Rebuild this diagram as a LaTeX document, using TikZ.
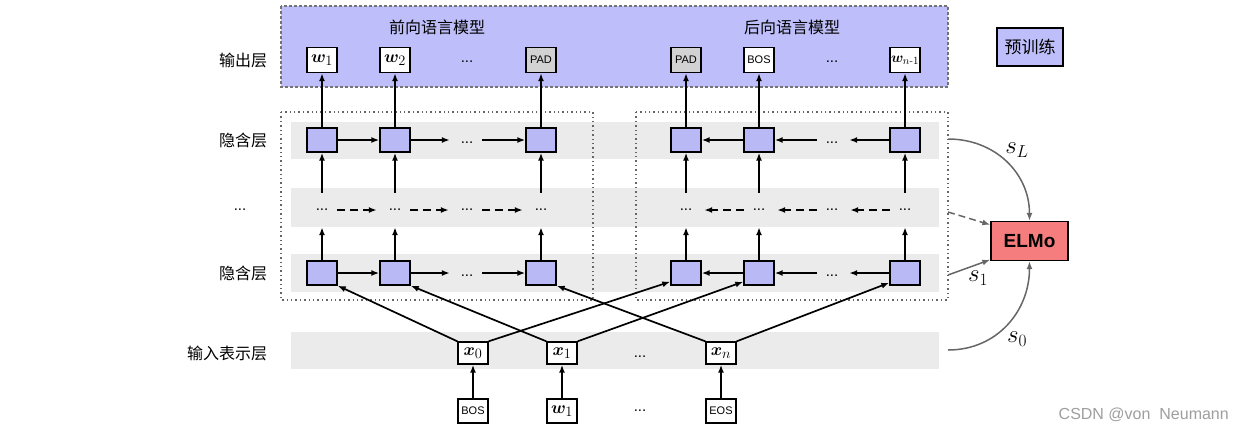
\documentclass[tikz,border=0pt]{standalone}
\usepackage{fontspec}
\usepackage{amsmath}
\usepackage{bm}
\newfontfamily\cjk{Noto Sans CJK SC}
\newfontfamily\sansf{Liberation Sans}
\usetikzlibrary{arrows.meta,calc}
\definecolor{pur}{RGB}{190,190,250}
\definecolor{hid}{RGB}{185,185,245}
\definecolor{bandc}{RGB}{235,235,235}
\definecolor{elmoc}{RGB}{245,125,125}
\definecolor{padg}{RGB}{210,210,210}
\tikzset{
  arr/.style={-{Latex[length=8pt,width=6pt]},line width=1.7pt},
  darr/.style={arr,dash pattern=on 8pt off 5pt},
  garr/.style={-{Latex[length=8pt,width=6pt]},line width=1.5pt,draw=black!60},
  lbl/.style={font=\cjk\fontsize{16}{18}\selectfont},
  hbox/.style={draw,line width=1.4pt,fill=hid,minimum width=30pt,minimum height=24pt,inner sep=0pt},
  wbox/.style={draw,line width=1.4pt,fill=white,minimum width=30pt,minimum height=25pt,inner sep=0pt,font=\fontsize{19}{21}\selectfont},
  tbox/.style={wbox,font=\sansf\fontsize{11}{13}\selectfont},
  xbox/.style={wbox,minimum height=22pt},
  dotn/.style={minimum width=30pt,minimum height=34pt,inner sep=0pt,font=\sansf\fontsize{15}{17}\selectfont},
  slbl/.style={font=\fontsize{23}{25}\selectfont},
}
\begin{document}
\begin{tikzpicture}[x=1pt,y=-1pt]
\useasboundingbox (0,0) rectangle (1243,432);
% bands
\fill[bandc] (291,122) rectangle (939,159);
\fill[bandc] (291,188) rectangle (939,227);
\fill[bandc] (291,254) rectangle (939,292);
\fill[bandc] (291,332) rectangle (939,369);
% output purple panel
\draw[fill=pur,draw=black!55,line width=1.3pt,dash pattern=on 3pt off 2pt] (281,6) rectangle (948,87);
% dotted boxes
\draw[draw=black!60,line width=1.4pt,dash pattern=on 1.4pt off 3pt] (281,112) rectangle (593,300);
\draw[draw=black!60,line width=1.4pt,dash pattern=on 1.4pt off 3pt] (636,112) rectangle (948,300);
% titles
\node[lbl] (tf) at (437,27) {前向语言模型};
\node[lbl] (tb) at (792,27) {后向语言模型};
% left labels
\node[lbl] (l1) at (243,60) {输出层};
\node[lbl] (l2) at (243,140) {隐含层};
\node[dotn] (l3) at (240,210) {...};
\node[lbl] (l4) at (243,273) {隐含层};
\node[lbl] (l5) at (227,353) {输入表示层};
% pretraining legend
\node[draw,line width=1.4pt,fill=pur,minimum width=66pt,minimum height=38pt,inner sep=0pt,font=\cjk\fontsize{17}{19}\selectfont] (pre) at (1030,47) {预训练};
% output row
\node[wbox] (oa) at (322,60) {$\bm{w}_1$};
\node[wbox] (ob) at (395,60) {$\bm{w}_2$};
\node[dotn] (oc) at (467,62) {...};
\node[tbox,fill=padg] (od) at (541,60) {PAD};
\node[tbox,fill=padg] (oe) at (686,60) {PAD};
\node[tbox] (of) at (759,60) {BOS};
\node[dotn] (og) at (832,62) {...};
\node[wbox,font=\fontsize{15}{17}\selectfont] (oh) at (905,60) {$\bm{w}_{n\text{-}1}$};
% top hidden row
\node[hbox] (ha1) at (322,140) {};
\node[hbox] (ha2) at (395,140) {};
\node[dotn] (ha3) at (467,143) {...};
\node[hbox] (ha4) at (541,140) {};
\node[hbox] (hb1) at (686,140) {};
\node[hbox] (hb2) at (759,140) {};
\node[dotn] (hb3) at (832,143) {...};
\node[hbox] (hb4) at (905,140) {};
% middle row
\node[dotn] (ma1) at (322,210) {...};
\node[dotn] (ma2) at (395,210) {...};
\node[dotn] (ma3) at (467,210) {...};
\node[dotn] (ma4) at (541,210) {...};
\node[dotn] (mb1) at (686,210) {...};
\node[dotn] (mb2) at (759,210) {...};
\node[dotn] (mb3) at (832,210) {...};
\node[dotn] (mb4) at (905,210) {...};
% lower hidden row
\node[hbox] (la1) at (322,273) {};
\node[hbox] (la2) at (395,273) {};
\node[dotn] (la3) at (467,276) {...};
\node[hbox] (la4) at (541,273) {};
\node[hbox] (lb1) at (686,273) {};
\node[hbox] (lb2) at (759,273) {};
\node[dotn] (lb3) at (832,276) {...};
\node[hbox] (lb4) at (905,273) {};
% input row
\node[xbox] (x0) at (473,353) {$\bm{x}_0$};
\node[xbox] (x1) at (562,353) {$\bm{x}_1$};
\node[dotn] (xd) at (640,357) {...};
\node[xbox] (xn) at (721,353) {$\bm{x}_n$};
% bottom row
\node[tbox,minimum height=24pt] (bos) at (473,411) {BOS};
\node[wbox,minimum height=24pt] (bw1) at (562,411) {$\bm{w}_1$};
\node[dotn] (bd) at (640,411) {...};
\node[tbox,minimum height=24pt] (eos) at (721,411) {EOS};
% ELMo
\node[draw,line width=1.4pt,fill=elmoc,minimum width=77pt,minimum height=39pt,inner sep=0pt,font=\sansf\bfseries\fontsize{19}{21}\selectfont] (elmo) at (1029.5,241) {ELMo};
% vertical arrows
\foreach \a/\b in {ha1/oa,ha2/ob,ha4/od,hb1/oe,hb2/of,hb4/oh,
                   ma1/ha1,ma2/ha2,ma4/ha4,mb1/hb1,mb2/hb2,mb4/hb4,
                   la1/ma1,la2/ma2,la4/ma4,lb1/mb1,lb2/mb2,lb4/mb4,
                   bos/x0,bw1/x1,eos/xn}
  \draw[arr] (\a.north) -- (\b.south);
% horizontal forward
\foreach \a/\b in {ha1/ha2,ha3/ha4,la1/la2,la3/la4}
  \draw[arr] (\a.east |- \b.west) -- (\b.west);
\foreach \a/\b in {ha2/ha3,la2/la3}
  \draw[arr] (\a.east) -- ([xshift=-2pt]\a.east -| \b.west);
% horizontal backward
\foreach \a/\b in {hb3/hb2,hb2/hb1,lb3/lb2,lb2/lb1}
  \draw[arr] (\a.west |- \b.east) -- (\b.east);
\foreach \a/\b in {hb4/hb3,lb4/lb3}
  \draw[arr] (\a.west) -- ([xshift=2pt]\a.west -| \b.east);
% dashed middle
\foreach \a/\b in {ma1/ma2,ma2/ma3,ma3/ma4}
  \draw[darr,shorten >=3pt] (\a.east) -- (\b.west);
\foreach \a/\b in {mb4/mb3,mb3/mb2,mb2/mb1}
  \draw[darr,shorten >=3pt] (\a.west) -- (\b.east);
% input to hidden
\draw[arr] (x0.north west) -- (la1.south east);
\draw[arr] (x1.north west) -- (la2.south east);
\draw[arr] (xn.north west) -- (la4.south east);
\draw[arr] (x0.north east) -- ([yshift=4pt]lb1.south west);
\draw[arr] (x1.north east) -- ([yshift=4pt]lb2.south west);
\draw[arr] (xn.north east) -- ([yshift=3pt]lb4.south west);
% ELMo connections
\coordinate (sLs) at (948,139);
\coordinate (sMs) at (948,212);
\coordinate (s1s) at (948,275);
\coordinate (s0s) at (948,350);
\draw[garr] (sLs) to[out=0,in=90,looseness=1.05] (elmo.north);
\draw[garr,dash pattern=on 7pt off 4pt] (sMs) -- ([yshift=-4pt]elmo.north west);
\draw[garr] (s1s) -- ([yshift=1.5pt]elmo.south west);
\draw[garr] (s0s) to[out=0,in=-90,looseness=1.05] (elmo.south);
\node[slbl] (sL) at (1017,150) {$s_L$};
\node[slbl] (s1) at (978,278) {$s_1$};
\node[slbl] (s0) at (1017,339) {$s_0$};
% watermark
\node[font=\sansf\fontsize{16}{18}\selectfont,text=black!38,anchor=east,inner sep=0pt] (wm) at (1229,415) {CSDN @von\ \ Neumann};
\end{tikzpicture}
\end{document}
